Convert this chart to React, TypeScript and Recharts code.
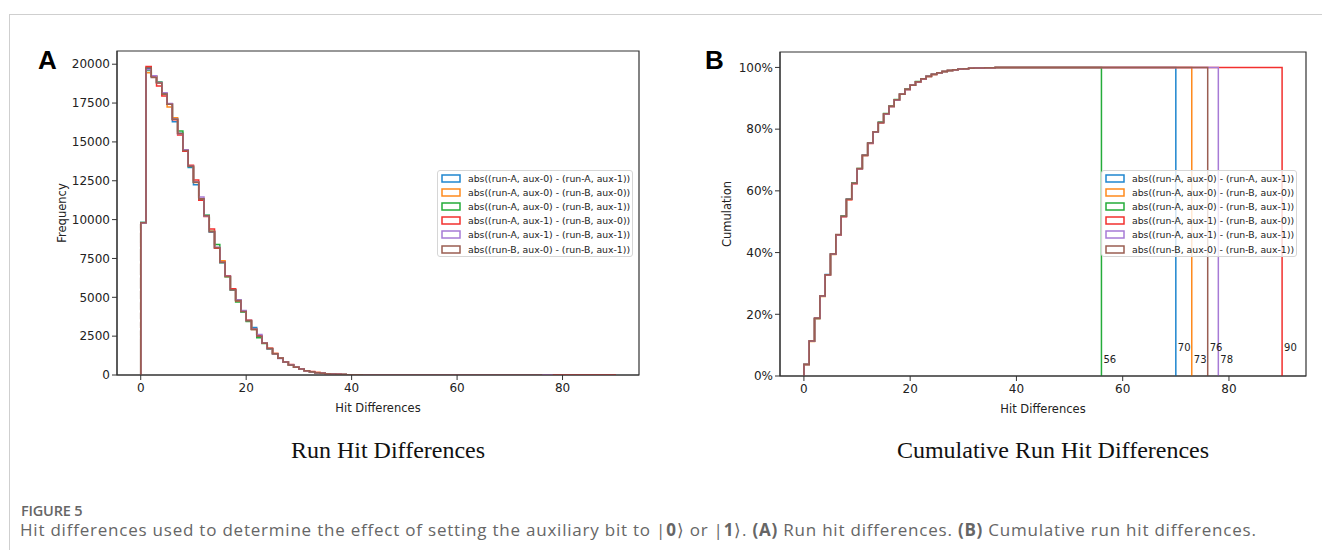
import { LineChart, Line, XAxis, YAxis, ReferenceArea, ReferenceDot } from "recharts";

// series in draw order (brown ends up on top)
const seriesNames = [
  "abs((run-A, aux-0) - (run-A, aux-1))",
  "abs((run-A, aux-0) - (run-B, aux-0))",
  "abs((run-A, aux-0) - (run-B, aux-1))",
  "abs((run-A, aux-1) - (run-B, aux-0))",
  "abs((run-A, aux-1) - (run-B, aux-1))",
  "abs((run-B, aux-0) - (run-B, aux-1))",
];
const seriesColors = ["#1f86cf", "#ff8a1c", "#25ac3a", "#f2302e", "#a77bd6", "#9a5e52"];

// counts per unit bin, bins 0..44
const blueHead = [9820, 19700, 19200, 18820, 18080, 17440, 16300, 15560, 14420, 13350, 12250, 11330, 10260, 9200, 8180, 7240, 6360, 5480, 4820, 4090, 3500, 3050, 2480, 2060, 1690, 1370, 1090, 840, 660, 500, 370, 280, 210, 150, 110, 80, 57, 41, 30, 21, 15, 11, 8, 6, 4];
const orangeHead = [9790, 19450, 19230, 18800, 18120, 17250, 16550, 15520, 14460, 13450, 12380, 11360, 10240, 9260, 8200, 7350, 6340, 5500, 4790, 4110, 3510, 2940, 2510, 2040, 1700, 1380, 1070, 850, 650, 510, 380, 280, 210, 160, 110, 80, 58, 42, 29, 21, 15, 11, 8, 5, 4];
const greenHead = [9810, 19600, 19220, 18860, 18100, 17420, 16450, 15700, 14430, 13420, 12420, 11320, 10280, 9240, 8400, 7230, 6330, 5460, 4700, 4060, 3450, 2930, 2400, 2030, 1680, 1370, 1080, 820, 650, 500, 380, 280, 200, 150, 110, 78, 57, 40, 29, 20, 14, 10, 7, 5, 4];
const redHead = [9800, 19850, 19240, 18600, 17950, 17460, 16420, 15450, 14400, 13500, 12550, 11250, 10200, 9400, 8150, 7260, 6380, 5550, 4780, 4100, 3520, 2920, 2520, 2050, 1720, 1390, 1080, 860, 670, 500, 390, 280, 220, 160, 110, 80, 60, 43, 31, 22, 15, 11, 8, 6, 4];
const purpleHead = [9780, 19650, 19260, 18830, 18160, 17470, 16480, 15530, 14500, 13440, 12420, 11450, 10240, 9230, 8220, 7240, 6350, 5490, 4840, 4150, 3510, 2960, 2600, 2050, 1690, 1370, 1060, 840, 660, 500, 380, 270, 210, 150, 110, 80, 58, 41, 30, 21, 14, 10, 8, 5, 4];
const brownHead = [9800, 19780, 19150, 18790, 18080, 17430, 16460, 15540, 14440, 13430, 12400, 11340, 10250, 9220, 8190, 7250, 6340, 5480, 4800, 4090, 3490, 2950, 2500, 2040, 1700, 1370, 1070, 840, 650, 500, 380, 280, 210, 150, 110, 80, 57, 42, 30, 21, 15, 10, 8, 5, 4];

// sparse tails, bin 45 up to each series' largest difference
const blueTail = [3, 2, 2, 1, 1, 1, 0, 1, 0, 0, 1, 0, 0, 0, 0, 1, 0, 0, 0, 0, 0, 0, 0, 0, 1];
const orangeTail = [3, 2, 1, 2, 1, 0, 1, 1, 0, 0, 0, 1, 0, 0, 0, 0, 0, 1, 0, 0, 0, 0, 0, 0, 0, 0, 0, 1];
const greenTail = [3, 2, 1, 1, 1, 0, 1, 0, 0, 0, 1];
const redTail = [3, 2, 2, 1, 1, 1, 1, 0, 1, 0, 0, 1, 0, 0, 0, 0, 1, 0, 0, 0, 0, 0, 0, 1, 0, 0, 0, 0, 0, 0, 0, 0, 0, 0, 0, 0, 0, 0, 0, 0, 0, 0, 0, 0, 1];
const purpleTail = [3, 2, 1, 1, 1, 1, 0, 1, 0, 0, 0, 1, 0, 0, 0, 0, 0, 0, 1, 0, 0, 0, 0, 0, 0, 0, 0, 0, 0, 0, 0, 0, 1];
const brownTail = [3, 2, 2, 1, 1, 0, 1, 0, 1, 0, 0, 0, 1, 0, 0, 0, 0, 0, 0, 1, 0, 0, 0, 0, 0, 0, 0, 0, 0, 0, 1];

const seriesCounts = [
  [...blueHead, ...blueTail],
  [...orangeHead, ...orangeTail],
  [...greenHead, ...greenTail],
  [...redHead, ...redTail],
  [...purpleHead, ...purpleTail],
  [...brownHead, ...brownTail],
];

// height (in %) of the max-difference annotations in panel B
const labelLevels = [9.4, 5.3, 5.3, 9.4, 5.3, 9.4];

const hitTicks = [0, 20, 40, 60, 80];
const countTicks = [0, 2500, 5000, 7500, 10000, 12500, 15000, 17500, 20000];
const percentTicks = [0, 20, 40, 60, 80, 100];

const X_MIN = -4.5;
const X_MAX = 94.5;
const COUNT_MAX = 20850;
const PCT_MAX = 105;

const FONT = "'DejaVu Sans', sans-serif";
const tickStyle = { fontSize: 12, fill: "#222", fontFamily: FONT };

// closed step outline like matplotlib's histtype="step"
function toSteps(values: number[]) {
  const pts = [{ x: 0, y: 0 }];
  values.forEach((v, i) => pts.push({ x: i, y: v }));
  pts.push({ x: values.length, y: values[values.length - 1] });
  pts.push({ x: values.length, y: 0 });
  return pts;
}

function toCumulative(values: number[]) {
  const total = values.reduce((a, b) => a + b, 0);
  let run = 0;
  return values.map((v) => {
    run += v;
    return (run / total) * 100;
  });
}

function LegendBox({ left, top }: { left: number; top: number }) {
  return (
    <div
      style={{
        position: "absolute",
        left,
        top,
        width: 196,
        height: 87,
        boxSizing: "border-box",
        border: "1px solid #d6d6d6",
        borderRadius: 3,
        background: "rgba(255,255,255,0.8)",
        fontFamily: FONT,
        fontSize: 9.3,
        color: "#222",
      }}
    >
      {seriesNames.map((name, i) => (
        <div
          key={name}
          style={{ position: "absolute", left: 3, top: 0.5 + i * 14.2, height: 14.2, lineHeight: "14.2px", whiteSpace: "nowrap" }}
        >
          <svg width={20} height={9} style={{ verticalAlign: "middle", marginRight: 7, marginTop: -2 }}>
            <rect x={1} y={1} width={18} height={7} fill="none" stroke={seriesColors[i]} strokeWidth={1.5} />
          </svg>
          {name}
        </div>
      ))}
    </div>
  );
}

function PanelLetter({ left, text }: { left: number; text: string }) {
  return (
    <div
      style={{
        position: "absolute",
        left,
        top: 47,
        fontFamily: "'Liberation Sans', Arial, sans-serif",
        fontWeight: 700,
        fontSize: 26,
        lineHeight: "26px",
        color: "#000",
      }}
    >
      {text}
    </div>
  );
}

function PanelTitle({ center, text }: { center: number; text: string }) {
  return (
    <div
      style={{
        position: "absolute",
        left: center - 250,
        width: 500,
        top: 438,
        textAlign: "center",
        fontFamily: "'Liberation Serif', serif",
        fontSize: 24,
        lineHeight: "24px",
        color: "#111",
      }}
    >
      {text}
    </div>
  );
}

export default function App() {
  return (
    <div style={{ position: "absolute", left: 0, top: 0, width: 1322, height: 550, background: "#fff", overflow: "hidden" }}>
      <div
        style={{
          position: "absolute",
          left: 9,
          top: 14,
          width: 1320,
          height: 540,
          borderTop: "1px solid #cfcfcf",
          borderLeft: "1px solid #cfcfcf",
        }}
      />

      <PanelLetter left={38} text="A" />
      <PanelLetter left={705} text="B" />

      {/* A: histogram */}
      <div style={{ position: "absolute", left: 0, top: 0 }}>
        <LineChart width={660} height={420} margin={{ top: 51, right: 21, bottom: 0, left: 57 }}>
          <XAxis
            dataKey="x"
            type="number"
            domain={[X_MIN, X_MAX]}
            ticks={hitTicks}
            allowDataOverflow
            tick={tickStyle}
            tickSize={5}
            tickMargin={3}
            height={45}
            stroke="#333"
            label={{ value: "Hit Differences", position: "insideBottom", offset: 8, style: { fontSize: 11.5, fill: "#222", fontFamily: FONT } }}
          />
          <YAxis
            type="number"
            domain={[0, COUNT_MAX]}
            ticks={countTicks}
            allowDataOverflow
            tick={tickStyle}
            tickSize={5}
            tickMargin={2}
            width={60}
            stroke="#333"
            label={{ value: "Frequency", angle: -90, position: "insideLeft", offset: 5, style: { textAnchor: "middle", fontSize: 11.5, fill: "#222", fontFamily: FONT } }}
          />
          {seriesCounts.map((counts, i) => (
            <Line
              key={seriesNames[i]}
              data={toSteps(counts)}
              dataKey="y"
              type="stepAfter"
              stroke={seriesColors[i]}
              strokeWidth={1.5}
              dot={false}
              isAnimationActive={false}
            />
          ))}
          <ReferenceArea x1={X_MIN} x2={X_MAX} y1={0} y2={COUNT_MAX} fill="none" stroke="#333" strokeWidth={1.2} ifOverflow="visible" />
        </LineChart>
      </div>
      <LegendBox left={437} top={170} />

      {/* B: cumulative */}
      <div style={{ position: "absolute", left: 660, top: 0 }}>
        <LineChart width={662} height={420} margin={{ top: 52, right: 16, bottom: 0, left: 60 }}>
          <XAxis
            dataKey="x"
            type="number"
            domain={[X_MIN, X_MAX]}
            ticks={hitTicks}
            allowDataOverflow
            tick={tickStyle}
            tickSize={5}
            tickMargin={3}
            height={44}
            stroke="#333"
            label={{ value: "Hit Differences", position: "insideBottom", offset: 7, style: { fontSize: 11.5, fill: "#222", fontFamily: FONT } }}
          />
          <YAxis
            type="number"
            domain={[0, PCT_MAX]}
            ticks={percentTicks}
            allowDataOverflow
            tickFormatter={(v: number) => `${v}%`}
            tick={tickStyle}
            tickSize={5}
            tickMargin={2}
            width={60}
            stroke="#333"
            label={{ value: "Cumulation", angle: -90, position: "insideLeft", offset: 7, style: { textAnchor: "middle", fontSize: 11.5, fill: "#222", fontFamily: FONT } }}
          />
          {seriesCounts.map((counts, i) => (
            <Line
              key={seriesNames[i]}
              data={toSteps(toCumulative(counts))}
              dataKey="y"
              type="stepAfter"
              stroke={seriesColors[i]}
              strokeWidth={1.5}
              dot={false}
              isAnimationActive={false}
            />
          ))}
          {seriesCounts.map((counts, i) => (
            <ReferenceDot
              key={`lbl-${i}`}
              x={counts.length}
              y={labelLevels[i]}
              r={0}
              fill="none"
              stroke="none"
              label={{ value: String(counts.length), position: "right", offset: 2, style: { fontSize: 10, fill: "#222", fontFamily: FONT } }}
            />
          ))}
          <ReferenceArea x1={X_MIN} x2={X_MAX} y1={0} y2={PCT_MAX} fill="none" stroke="#333" strokeWidth={1.2} ifOverflow="visible" />
        </LineChart>
      </div>
      <LegendBox left={1101} top={170} />

      <PanelTitle center={388} text="Run Hit Differences" />
      <PanelTitle center={1053} text="Cumulative Run Hit Differences" />

      <div
        style={{
          position: "absolute",
          left: 21,
          top: 501,
          fontFamily: "'Open Sans', sans-serif",
          fontSize: 14.5,
          fontWeight: 600,
          color: "#666",
          letterSpacing: -0.2,
        }}
      >
        FIGURE 5
      </div>
      <div
        style={{
          position: "absolute",
          left: 20,
          top: 519,
          fontFamily: "'Open Sans', sans-serif",
          fontSize: 17,
          lineHeight: "22px",
          color: "#666",
          whiteSpace: "nowrap",
          letterSpacing: 0.78,
        }}
      >
        Hit differences used to determine the effect of setting the auxiliary bit to |<b>0</b>⟩ or |<b>1</b>⟩. <b>(A)</b> Run hit
        differences. <b>(B)</b> Cumulative run hit differences.
      </div>
    </div>
  );
}
